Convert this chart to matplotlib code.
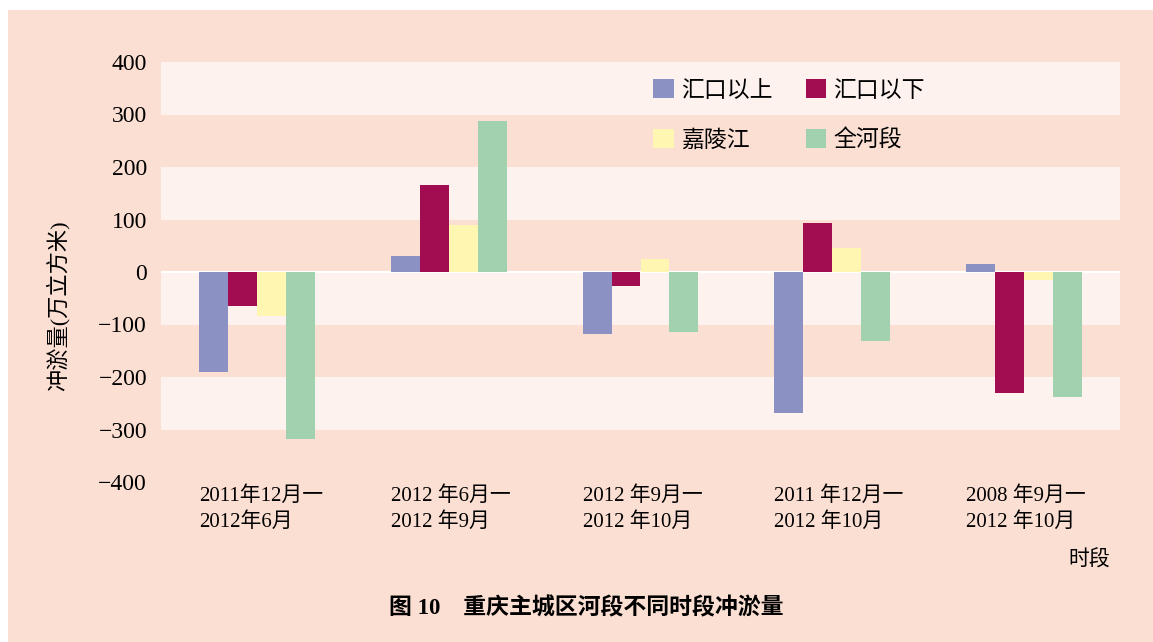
import numpy as np
import matplotlib as mpl
import matplotlib.pyplot as plt
from matplotlib.patches import Rectangle

plt.rcParams['font.family'] = ['Liberation Serif', 'Noto Sans CJK SC']
plt.rcParams['axes.unicode_minus'] = True

# data (10^4 m^3)
periods = ['2011年12月一\n2012年6月', '2012 年6月一\n2012 年9月', '2012 年9月一\n2012 年10月',
           '2011 年12月一\n2012 年10月', '2008 年9月一\n2012 年10月']
series = ['汇口以上', '汇口以下', '嘉陵江', '全河段']
above = [-191, 30, -118, -268, 15]
below = [-65, 165, -27, 93, -230]
jialing = [-84, 89, 24, 45, -15]
whole = [-318, 287, -114, -131, -238]
colors = ['#8b91c2', '#a10d50', '#fff6b2', '#a1d1ae']

bg = '#fcdfd3'
band = '#fdf2ed'

W, H = 1153, 642
fig = plt.figure(figsize=(W / 100, H / 100), dpi=100, facecolor='white')
fig.patches.append(Rectangle((8 / W, 0), 1, 1 - 10 / H, transform=fig.transFigure,
                             facecolor=bg, edgecolor='none', zorder=-10))

ax = fig.add_axes([161 / W, 1 - 482 / H, 959 / W, 420 / H])
ax.set_facecolor(bg)
for lo in [300, 100, -100, -300]:
    ax.axhspan(lo, lo + 100, color=band, lw=0, zorder=0)
ax.axhline(0, color='white', lw=1.5, zorder=1)

x = np.arange(len(periods))
w = 0.151
bars = []
for k, (vals, name) in enumerate(zip([above, below, jialing, whole], series)):
    bars.append(ax.bar(x + (k - 1.5) * w, vals, w, color=colors[k], label=name, zorder=2, lw=0))

ax.set_xlim(-0.5, len(periods) - 0.5)
ax.set_ylim(-400, 400)
ax.set_yticks(np.arange(-400, 401, 100))
ax.set_xticks(x - 2 * w)
ax.set_xticklabels(periods, ha='left', multialignment='left', linespacing=1.4)
ax.tick_params(length=0)
ax.tick_params(axis='x', labelsize=15, pad=3)
ax.tick_params(axis='y', labelsize=17, pad=10)
for s in ax.spines.values():
    s.set_visible(False)

ax.set_ylabel('冲淤量(万立方米)', fontsize=16)
ax.yaxis.set_label_coords(-0.095, 0.42)
fig.text(1110 / W, 1 - 560 / H, '时段', fontsize=15, ha='right', va='center')
fig.text(586 / W, 1 - 608 / H, '图 10　重庆主城区河段不同时段冲淤量', fontsize=16.5,
         fontweight='bold', ha='center', va='center')

# row-wise legend order
order = [0, 2, 1, 3]
ax.legend([bars[i] for i in order], [series[i] for i in order],
          loc='upper left', bbox_to_anchor=(642 / W, 1 - 68 / H), bbox_transform=fig.transFigure,
          ncol=2, frameon=False, fontsize=16.5, handlelength=0.9, handleheight=0.9,
          handletextpad=0.3, columnspacing=1.45, labelspacing=1.2, borderpad=0)

fig.savefig('out.png', dpi=100, facecolor=fig.get_facecolor())
